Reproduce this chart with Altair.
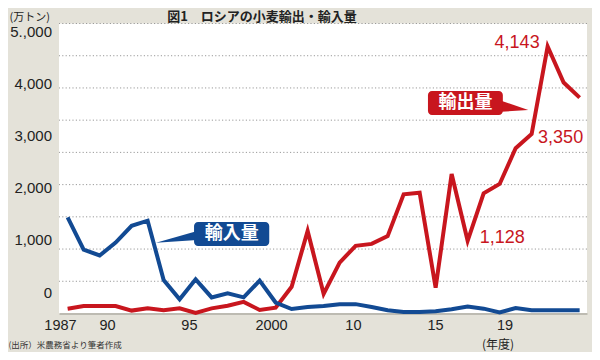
import altair as alt
import pandas as pd

# ---------------- data ----------------
YEARS = list(range(1987, 2020))
EXPORTS = [75, 115, 115, 115, 45, 80, 50, 80, 10, 80, 120, 180, 55, 90, 415, 1280,
           305, 790, 1050, 1080, 1200, 1850, 1875, 400, 2165, 1128, 1865, 2010,
           2565, 2785, 4143, 3585, 3350]
IMPORTS = [1490, 990, 900, 1100, 1360, 1440, 520, 220, 530, 250, 315, 250, 510,
           170, 70, 100, 115, 145, 145, 100, 50, 25, 25, 35, 65, 110, 75, 15, 85,
           50, 50, 50, 50]
SERIES = ["輸出量", "輸入量"]
GRID_VALUES = [500, 1000, 1500, 2000, 2500, 3000, 3500, 4000, 4500]

TITLE = "図1　ロシアの小麦輸出・輸入量"
SOURCE = "(出所）米農務省より筆者作成"

# axis tick labels as printed in the reference (and where they sit)
X_LABELS = ["1987", "90", "95", "2000", "10", "15", "19"]
X_LABEL_AT = [1986.52, 1989.46, 1994.58, 1999.71, 2004.83, 2009.96, 2014.3]
Y_LABELS = ["0", "1,000", "2,000", "3,000", "4,000", "5.,000"]
Y_LABEL_AT = [326, 1145, 1955, 2765, 3575, 4370]

# annotations (data coordinates)
IMPORT_BOX = {"year": 1994.9, "year2": 1999.6, "value": 1420, "value2": 1047,
              "label": "輸入量", "cx": 1997.25, "cy": 1234}
IMPORT_WEDGE = [(1992.52, 1097, 1097), (1995.1, 1280, 1140)]
EXPORT_BOX = {"year": 2009.52, "year2": 2014.2, "value": 3453, "value2": 3080,
              "label": "輸出量", "cx": 2011.86, "cy": 3266}
EXPORT_WEDGE = [(2014.1, 3302, 3131), (2015.79, 3158, 3158)]
PEAK = (2017, 4143, "4,143")
LOW = (2012, 1128, "1,128")
LAST = (2019, 3350, "3,350")

BLUE = "#124a93"
RED = "#c8161e"
BG = "#e4e2d9"
TXT = "#222222"
JP = "Noto Sans CJK JP"

# ---------------- tables ----------------
lines_df = pd.DataFrame({
    "year": YEARS * 2,
    "value": EXPORTS + IMPORTS,
    "series": [SERIES[0]] * len(YEARS) + [SERIES[1]] * len(YEARS),
})
grid_df = pd.DataFrame({"value": GRID_VALUES})


def lab_expr(pos, labels):
    return ("[" + ",".join(f"'{l}'" for l in labels) + "][indexof(["
            + ",".join(str(p) for p in pos) + "], datum.value)]")


x_axis = alt.Axis(values=X_LABEL_AT, labelExpr=lab_expr(X_LABEL_AT, X_LABELS),
                  title="(年度)", titleX=438.5, titleY=30.5, titleAlign="center",
                  titleBaseline="middle", titleFont=JP, titleFontSize=12,
                  titleFontWeight="normal", titleColor=TXT,
                  ticks=False, tickSize=0, grid=False, domain=True,
                  domainColor="#bdbbb2", domainWidth=2,
                  labelFont="Liberation Sans", labelFontSize=14.5,
                  labelColor=TXT, labelPadding=5, labelFlush=False, labelOverlap=False)
y_axis = alt.Axis(values=Y_LABEL_AT, labelExpr=lab_expr(Y_LABEL_AT, Y_LABELS),
                  title="(万トン)", titleAngle=0, titleX=-50, titleY=-3.5,
                  titleAlign="left", titleBaseline="alphabetic", titleFont=JP,
                  titleFontSize=11, titleFontWeight="normal", titleColor=TXT,
                  ticks=False, tickSize=0, grid=False, domain=False,
                  labelFont="Liberation Sans", labelFontSize=15, labelColor=TXT,
                  labelPadding=7.5, labelBaseline="middle", labelFlush=False,
                  labelOverlap=False)

XS = alt.Scale(domain=[1986.46, 2019.46], nice=False, zero=False)
YS = alt.Scale(domain=[0, 4500], nice=False, zero=False)
X = alt.X("year:Q", scale=XS, axis=x_axis)
Y = alt.Y("value:Q", scale=YS, axis=y_axis)

grid = alt.Chart(grid_df).mark_rule(color="#9a9a9a", strokeWidth=1,
                                    strokeDash=[1.2, 2.2]).encode(y=Y)

lines = alt.Chart(lines_df).mark_line(strokeWidth=4, strokeJoin="miter").encode(
    x=X, y=Y,
    color=alt.Color("series:N", scale=alt.Scale(domain=SERIES, range=[RED, BLUE]),
                    legend=None),
)


def callout(box, wedge, color):
    bdf = pd.DataFrame([box])
    wdf = pd.DataFrame(wedge, columns=["year", "value", "value2"])
    rect = alt.Chart(bdf).mark_rect(color=color, cornerRadius=4).encode(
        x=X, x2="year2:Q", y=Y, y2="value2:Q")
    tri = alt.Chart(wdf).mark_area(color=color).encode(x=X, y=Y, y2="value2:Q")
    txt = alt.Chart(bdf).mark_text(font=JP, fontSize=18, fontWeight="bold",
                                   color="white", align="center",
                                   baseline="middle").encode(
        x=alt.X("cx:Q", scale=XS, axis=x_axis),
        y=alt.Y("cy:Q", scale=YS, axis=y_axis),
        text="label:N")
    return [tri, rect, txt]


def num_label(pt, align, dx, dy):
    df = pd.DataFrame([{"year": pt[0], "value": pt[1], "label": pt[2]}])
    return alt.Chart(df).mark_text(font="Liberation Sans", fontSize=18, color=RED,
                                   align=align, baseline="alphabetic",
                                   dx=dx, dy=dy).encode(x=X, y=Y, text="label:N")


source = alt.Chart(pd.DataFrame({"t": [SOURCE]})).mark_text(
    font=JP, fontSize=8.5, color="#333333", align="left", baseline="middle"
).encode(x=alt.value(-50.5), y=alt.value(321.5), text="t:N")

title = alt.Chart(pd.DataFrame({"t": [TITLE]})).mark_text(
    font=JP, fontSize=13, fontWeight="bold", color=TXT, align="center",
    baseline="alphabetic"
).encode(x=alt.value(203), y=alt.value(-2.5), text="t:N")

layers = [grid, lines] + callout(IMPORT_BOX, IMPORT_WEDGE, BLUE) + \
    callout(EXPORT_BOX, EXPORT_WEDGE, RED) + [
        num_label(PEAK, "right", -8, 1),
        num_label(LOW, "left", 12, 2),
        num_label(LAST, "right", 3.5, 45),
        source,
        title,
    ]

chart = alt.layer(*layers).properties(
    width=528, height=290,
    padding={"left": 51, "top": 15.5, "right": 5, "bottom": 38.5},
    autosize=alt.AutoSizeParams(type="none"),
    background=BG,
).configure_view(fill="white", strokeWidth=0)

chart.save("out.html", embed_options={"renderer": "svg", "actions": False})
